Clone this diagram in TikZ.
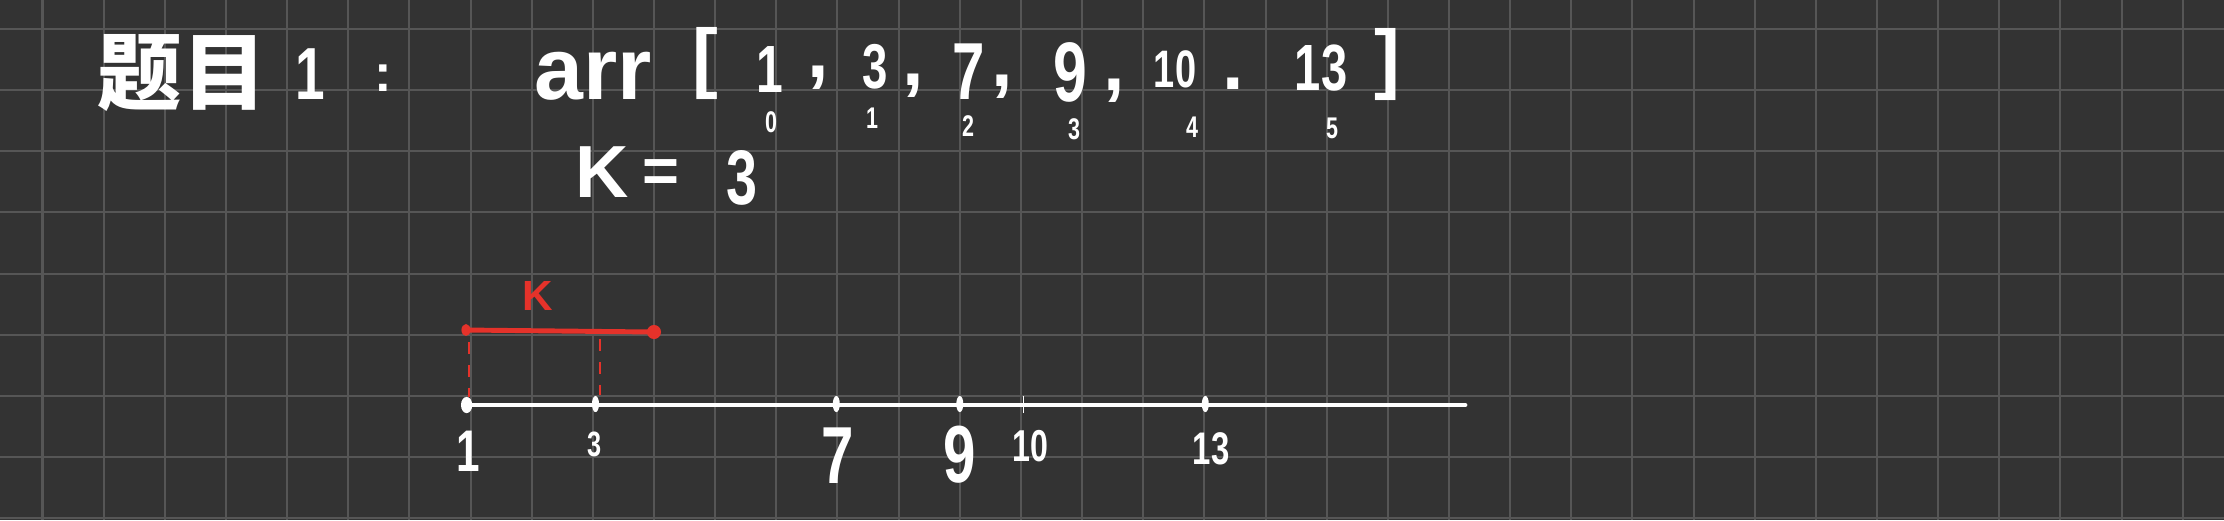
\documentclass[tikz,border=0pt]{standalone}
\usepackage{fontspec}
\setmainfont{Liberation Sans}
\newfontfamily\narrowf{Liberation Sans}[FakeStretch=0.72]
\newfontfamily\cjk{Noto Sans CJK SC}
\definecolor{bg}{HTML}{333333}
\definecolor{gridc}{HTML}{565656}
\definecolor{penred}{HTML}{E5322A}
\newcommand{\hsz}[1]{\fontsize{#1}{#1}\selectfont}
\tikzset{
  hw/.style={text=white, inner sep=0pt, anchor=center, font=\hsz{#1}\bfseries},
  hwn/.style={text=white, inner sep=0pt, anchor=center, font=\hsz{#1}\narrowf\bfseries},
  idx/.style={hwn=8.5pt},
  redtxt/.style={hw=#1, text=penred},
  gridline/.style={draw=gridc, line width=0.57pt},
  axisline/.style={draw=white, line width=1.35pt, line cap=round},
  kseg/.style={draw=penred, line width=1.4pt, line cap=round},
  kdash/.style={draw=penred, line width=0.55pt, dash pattern=on 3.4pt off 3.1pt},
  tickdot/.style={fill=white},
}
\begin{document}
\begin{tikzpicture}[x=0.01cm,y=-0.01cm]
\fill[bg] (0,0) rectangle (2224,520);
\useasboundingbox (0,0) rectangle (2224,520);
% grid
\foreach \i in {0,...,35} \draw[gridline] ({42.5+61.15*\i},0) -- ({42.5+61.15*\i},520);
\foreach \j in {0,...,8} \draw[gridline] (0,{29+61.15*\j}) -- (2224,{29+61.15*\j});

% title line
\node[hw=24pt] (ti) at (182,73) {\cjk 题目};
\node[hwn=21pt] (tn) at (310,74) {1};
\node[hw=15pt] (tc) at (383,78) {:};
\node[hw=25pt] (arr) at (593,76) {arr};
\node[hw=22pt] (lb) at (705,63) {[};
\node[hwn=19pt] (v0) at (770,69) {1};
\node[hw=22pt] (c0) at (818,78) {,};
\node[hwn=18pt] (v1) at (875,67) {3};
\node[hw=22pt] (c1) at (913,86) {,};
\node[hwn=23pt] (v2) at (969,72) {7};
\node[hw=22pt] (c2) at (1002,87) {,};
\node[hwn=24pt] (v3) at (1070,72) {9};
\node[hw=22pt] (c3) at (1114,91) {,};
\node[hwn=15pt] (v4) at (1175,69) {10};
\node[hw=22pt] (c4) at (1233,84) {.};
\node[hwn=18.6pt] (v5) at (1321,68) {13};
\node[hw=22pt] (rb) at (1387,64) {]};
% indices
\node[idx] (i0) at (771,122) {0};
\node[idx] (i1) at (872,118) {1};
\node[idx] (i2) at (968,126) {2};
\node[idx] (i3) at (1074,129) {3};
\node[idx] (i4) at (1192,127) {4};
\node[idx] (i5) at (1332,128) {5};
% K = 3
\node[hw=21pt] (kk) at (602,172) {K};
\node[hw=18pt] (keq) at (661,176) {=};
\node[hwn=22pt] (kv) at (742,178) {3};

% number line
\coordinate (nlA) at (466.6,405);
\coordinate (nlB) at (1465,405);
\draw[axisline] (nlA) -- (nlB);
\coordinate (t1) at (466.6,405);
\coordinate (t3) at (595.5,404);
\coordinate (t7) at (836.3,404);
\coordinate (t9) at (959.8,404);
\coordinate (t10) at (1023.6,404);
\coordinate (t13) at (1205.3,404);
\fill[tickdot] (t1) ellipse [x radius=1.6pt, y radius=2.3pt];
\foreach \t in {t3,t7,t9,t13} \fill[tickdot] (\t) ellipse [x radius=1.0pt, y radius=2.3pt];
\draw[white, line width=0.45pt] ([yshift=2.2pt]t10) -- ([yshift=-2.5pt]t10);
% labels under the line
\node[hwn=16.7pt] (l1) at (468,451) {1};
\node[hwn=10pt] (l3) at (595,444) {3};
\node[hwn=23pt] (l7) at (838,456) {7};
\node[hwn=23pt] (l9) at (960,455) {9};
\node[hwn=12.7pt] (l10) at (1030,446) {10};
\node[hwn=13pt] (l13) at (1211,449) {13};

% red window of size k
\coordinate (ks) at (466,330);
\coordinate (ke) at (654,332);
\draw[kseg] (ks) -- (ke);
\fill[penred] (ks) ellipse [x radius=1.3pt, y radius=1.7pt];
\fill[penred] (ke) circle [radius=2pt];
\node[redtxt=12pt] (klab) at (538,296) {K};
\coordinate (d1a) at (469,342);
\coordinate (d1b) at (469,397);
\coordinate (d3a) at (600,339);
\coordinate (d3b) at (600,395);
\draw[kdash] (d1a) -- (d1b);
\draw[kdash] (d3a) -- (d3b);
\end{tikzpicture}
\end{document}
